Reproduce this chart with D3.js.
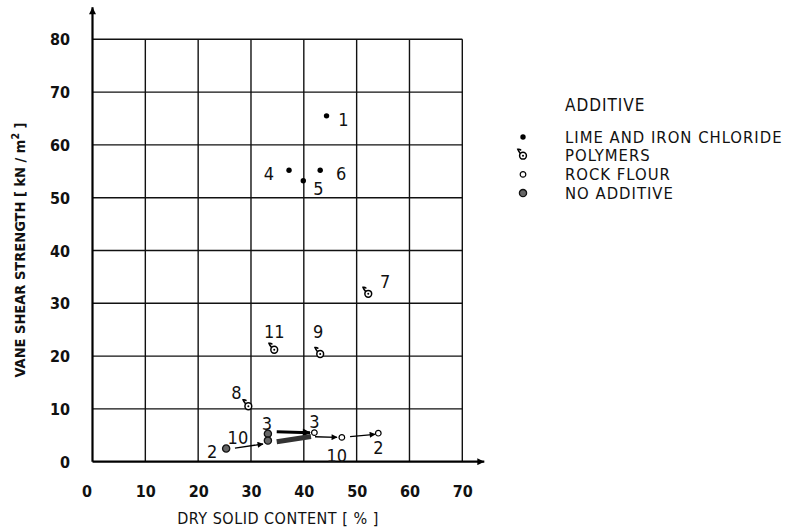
<!DOCTYPE html>
<html>
<head>
<meta charset="utf-8">
<script src="https://cdn.jsdelivr.net/npm/d3@7"></script>
<style>
html,body{margin:0;padding:0;background:#fff;}
svg{display:block;}
text{font-family:"Liberation Sans Narrow","DejaVu Sans Condensed","Roboto Condensed",sans-serif;fill:#111;}
</style>
</head>
<body>
<svg id="chart" width="788" height="529"></svg>
<script>
// ---- data ----
const xTicks = [0,10,20,30,40,50,60,70];
const yTicks = [0,10,20,30,40,50,60,70,80];
const xTitle = "DRY SOLID CONTENT [ % ]";
const yTitle = "VANE SHEAR STRENGTH [ kN / m";
const legendTitle = "ADDITIVE";
const seriesNames = ["LIME AND IRON CHLORIDE","POLYMERS","ROCK FLOUR","NO ADDITIVE"];
const seriesKeys = ["lime","polymer","rock","none"];

const limePoints = [
  {id:"1", x:44.3, y:65.5},
  {id:"4", x:37.2, y:55.2},
  {id:"6", x:43.1, y:55.2},
  {id:"5", x:39.9, y:53.2}
];
const polymerPoints = [
  {id:"7", x:52.2, y:31.8},
  {id:"11", x:34.4, y:21.2},
  {id:"9", x:43.1, y:20.4},
  {id:"8", x:29.5, y:10.5}
];
const rockPoints = [
  {id:"3", x:42.0, y:5.5},
  {id:"10", x:47.2, y:4.6},
  {id:"2", x:54.1, y:5.4}
];
const noAdditivePoints = [
  {id:"2", x:25.3, y:2.5},
  {id:"3", x:33.2, y:5.3},
  {id:"10", x:33.2, y:4.0}
];
// transition arrows (data coordinates)
const arrows = [
  {x1:26.97, y1:2.59, x2:32.27, y2:3.35, w:"thin"},
  {x1:34.87, y1:5.68, x2:41.17, y2:5.49, w:"thick"},
  {x1:34.87, y1:3.79, x2:41.36, y2:4.77, w:"band"},
  {x1:42.12, y1:4.73, x2:46.28, y2:4.62, w:"thin"},
  {x1:48.76, y1:4.73, x2:53.49, y2:5.19, w:"thin"}
];

// ---- layout (not data) ----
const labelOffset = {
  "lime-1":[17,4], "lime-4":[-20,3], "lime-6":[21,3], "lime-5":[15,8],
  "polymer-7":[17,-12], "polymer-11":[0,-18], "polymer-9":[-2,-22], "polymer-8":[-12,-14],
  "rock-3":[0,-11], "rock-10":[-5,18], "rock-2":[0,15],
  "none-2":[-14,3], "none-3":[-1,-10], "none-10":[-30,-3]
};
const widths = {thin:1.3, thick:3, band:5};

const svg = d3.select("#chart");
const x = d3.scaleLinear().domain([0,70]).range([92.5,462.3]);
const y = d3.scaleLinear().domain([0,80]).range([461.7,39.3]);

// arrow markers
const defs = svg.append("defs");
defs.append("marker").attr("id","ah").attr("viewBox","0 0 10 10")
  .attr("refX",9).attr("refY",5).attr("markerWidth",8).attr("markerHeight",6)
  .attr("markerUnits","userSpaceOnUse").attr("orient","auto")
  .append("path").attr("d","M0,0 L10,5 L0,10 Z").attr("fill","#000");
defs.append("marker").attr("id","ahb").attr("viewBox","0 0 10 10")
  .attr("refX",9).attr("refY",5).attr("markerWidth",9).attr("markerHeight",8)
  .attr("markerUnits","userSpaceOnUse").attr("orient","auto")
  .append("path").attr("d","M0,0 L10,5 L0,10 Z").attr("fill","#000");
defs.append("marker").attr("id","axh").attr("viewBox","0 0 10 10")
  .attr("refX",10).attr("refY",5).attr("markerWidth",12).attr("markerHeight",7)
  .attr("markerUnits","userSpaceOnUse").attr("orient","auto")
  .append("path").attr("d","M0,0 L10,5 L0,10 Z").attr("fill","#000");

// grid
const g = svg.append("g");
g.selectAll("line.v").data(xTicks.filter(d=>d>0)).join("line")
  .attr("x1",d=>x(d)).attr("x2",d=>x(d)).attr("y1",y(0)).attr("y2",y(80))
  .attr("stroke","#111").attr("stroke-width",1.4);
g.selectAll("line.h").data(yTicks.filter(d=>d>0)).join("line")
  .attr("x1",x(0)).attr("x2",x(70)).attr("y1",d=>y(d)).attr("y2",d=>y(d))
  .attr("stroke","#111").attr("stroke-width",1.4);

// axes with arrows
svg.append("line").attr("x1",x(0)).attr("y1",y(0)).attr("x2",x(0)).attr("y2",y(80)-32)
  .attr("stroke","#000").attr("stroke-width",2.2).attr("marker-end","url(#axh)");
svg.append("line").attr("x1",x(0)).attr("y1",y(0)).attr("x2",x(70)+22).attr("y2",y(0))
  .attr("stroke","#000").attr("stroke-width",2.2).attr("marker-end","url(#axh)");

// tick labels
const xa = svg.append("g").attr("transform",`translate(0,${y(0)+24})`)
  .call(d3.axisBottom(x).tickValues(xTicks).tickSize(0).tickPadding(0).tickFormat(d3.format("d")));
xa.select(".domain").remove();
xa.selectAll("text").attr("font-size",16).attr("font-weight","bold")
  .attr("font-family","'Liberation Sans Narrow','DejaVu Sans Condensed',sans-serif")
  .attr("fill","#111").attr("dx",d=>d===0?-6:0);
const ya = svg.append("g").attr("transform",`translate(70,0)`)
  .call(d3.axisLeft(y).tickValues(yTicks).tickSize(0).tickPadding(0).tickFormat(d3.format("d")));
ya.select(".domain").remove();
ya.selectAll("text").attr("font-size",16).attr("font-weight","bold")
  .attr("font-family","'Liberation Sans Narrow','DejaVu Sans Condensed',sans-serif")
  .attr("fill","#111").attr("dy","0.35em");

// axis titles
svg.append("text").attr("x",278).attr("y",524).attr("text-anchor","middle")
  .attr("font-size",16).attr("letter-spacing",0.5).text(xTitle);
const yt = svg.append("text").attr("transform","translate(25,250) rotate(-90)")
  .attr("text-anchor","middle").attr("font-size",14.5).attr("font-weight","bold");
yt.append("tspan").text(yTitle);
yt.append("tspan").attr("dy",-6).attr("font-size",10.5).text("2");
yt.append("tspan").attr("dy",6).text(" ]");

// arrows
svg.selectAll("line.arrow").data(arrows).join("line")
  .attr("x1",d=>x(d.x1)).attr("y1",d=>y(d.y1)).attr("x2",d=>x(d.x2)).attr("y2",d=>y(d.y2))
  .attr("stroke",d=>d.w==="band"?"#333":"#000").attr("stroke-width",d=>widths[d.w])
  .attr("marker-end",d=>d.w==="band"?null:(d.w==="thick"?"url(#ahb)":"url(#ah)"));

// symbol drawers
function drawSymbol(sel, key){
  if(key==="lime"){
    sel.append("circle").attr("r",2.7).attr("fill","#000");
  } else if(key==="polymer"){
    sel.append("path").attr("d","M-2.4,-2 Q-4.5,-4.5 -5.2,-6.4 Q-3.5,-6.8 -2.4,-5.8").attr("fill","none")
      .attr("stroke","#000").attr("stroke-width",1.6).attr("stroke-linecap","round");
    sel.append("circle").attr("r",3.4).attr("fill","#fff").attr("stroke","#000").attr("stroke-width",1.5);
    sel.append("circle").attr("r",1).attr("fill","#000");
  } else if(key==="rock"){
    sel.append("circle").attr("r",2.8).attr("fill","#fff").attr("stroke","#000").attr("stroke-width",1.2);
  } else {
    sel.append("circle").attr("r",3.6).attr("fill","#666").attr("stroke","#111").attr("stroke-width",1.3);
  }
}

const allSeries = [
  {key:"lime", pts:limePoints},
  {key:"polymer", pts:polymerPoints},
  {key:"rock", pts:rockPoints},
  {key:"none", pts:noAdditivePoints}
];
allSeries.forEach(s=>{
  const grp = svg.append("g");
  const pg = grp.selectAll("g").data(s.pts).join("g")
    .attr("transform",d=>`translate(${x(d.x)},${y(d.y)})`);
  pg.each(function(){ drawSymbol(d3.select(this), s.key); });
  grp.selectAll("text").data(s.pts).join("text")
    .attr("x",d=>x(d.x)+(labelOffset[s.key+"-"+d.id]||[0,0])[0])
    .attr("y",d=>y(d.y)+(labelOffset[s.key+"-"+d.id]||[0,0])[1])
    .attr("text-anchor","middle").attr("dy","0.35em").attr("font-size",18)
    .text(d=>d.id);
});

// legend
const lg = svg.append("g");
lg.append("text").attr("x",565).attr("y",105).attr("dy","0.35em").attr("font-size",17)
  .attr("letter-spacing",1).text(legendTitle);
const items = lg.selectAll("g.item").data(seriesNames).join("g")
  .attr("transform",(d,i)=>`translate(0,${137+i*18.7})`);
items.each(function(d,i){
  const s = d3.select(this).append("g").attr("transform","translate(523,0)");
  drawSymbol(s, seriesKeys[i]);
});
items.append("text").attr("x",565).attr("dy","0.35em").attr("font-size",16.5)
  .attr("letter-spacing",1).text(d=>d);
</script>
</body>
</html>
